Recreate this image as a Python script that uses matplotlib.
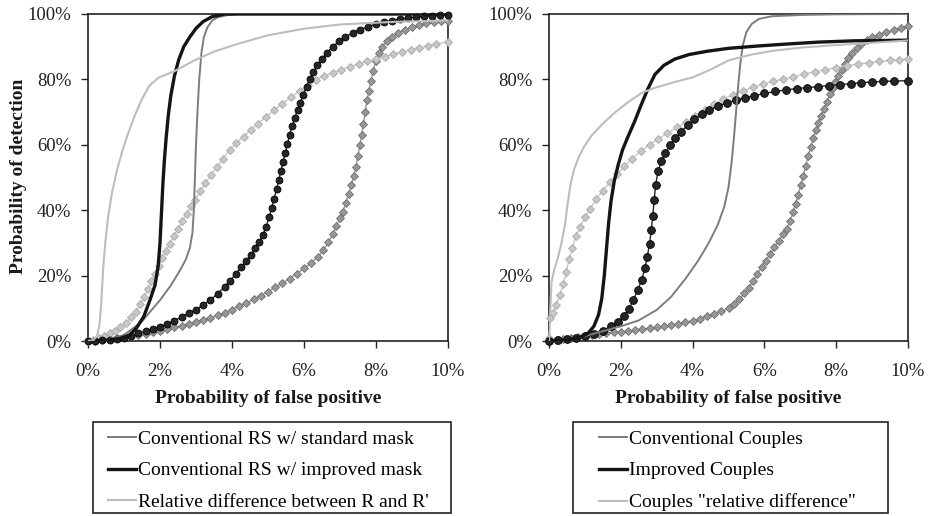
import matplotlib
matplotlib.use("Agg")
import matplotlib.pyplot as plt
import matplotlib.patches as patches

plt.rcParams['font.family'] = ['Liberation Serif', 'DejaVu Serif']

# --- Data (x = probability of false positive in %, y = probability of detection in %) ---
x_ticks = [0, 2, 4, 6, 8, 10]
x_tick_labels = ["0%", "2%", "4%", "6%", "8%", "10%"]
y_ticks = [0, 20, 40, 60, 80, 100]
y_tick_labels = ["0%", "20%", "40%", "60%", "80%", "100%"]

left_labels = ["Conventional RS w/ standard mask",
               "Conventional RS w/ improved mask",
               "Relative difference between R and R'"]
right_labels = ["Conventional Couples",
                "Improved Couples",
                'Couples "relative difference"']

# Left panel, plain lines
rs_std_x = [0, 0.5, 1.0, 1.5, 2.0, 2.3, 2.55, 2.72, 2.83, 2.9, 2.94, 2.97, 3.0, 3.04, 3.09, 3.15,
            3.22, 3.32, 3.45, 3.6, 3.85, 4.2, 5.0, 10]
rs_std_y = [0, 0.4, 1.8, 6.0, 12.5, 17.0, 21.5, 25.0, 28.5, 33, 40, 50, 60, 70, 80, 88,
            93, 96, 98, 99, 99.6, 100, 100, 100]

rs_imp_x = [0, 0.5, 0.9, 1.15, 1.35, 1.55, 1.72, 1.86, 1.95, 2.0, 2.04, 2.08, 2.12, 2.17, 2.23,
            2.3, 2.4, 2.52, 2.66, 2.83, 3.0, 3.2, 3.45, 3.8, 10]
rs_imp_y = [0, 0.2, 0.8, 1.8, 4.0, 7.5, 12.5, 17.0, 23, 30, 39, 48, 55, 62, 69,
            75, 81, 86, 90, 93, 95.6, 97.7, 99.2, 100, 100]

rs_rel_x = [0, 0.15, 0.25, 0.32, 0.37, 0.42, 0.48, 0.56, 0.66, 0.8, 0.95, 1.1, 1.3, 1.5, 1.7,
            1.95, 2.4, 2.9, 3.5, 4.2, 5.0, 6.0, 7.0, 8.5, 10]
rs_rel_y = [0, 0.3, 1.5, 5, 12, 22, 30, 38, 45, 52, 58, 63, 69, 74, 78,
            80.5, 82.5, 85.5, 88.5, 91, 93.5, 95.5, 96.8, 97.6, 98]

# Left panel, marker lines
rs_std_m_x = [0, 0.2, 0.4, 0.6, 0.8, 1.0, 1.2, 1.4, 1.6, 1.8, 2.0, 2.2, 2.4, 2.6, 2.8, 3.0,
              3.2, 3.4, 3.6, 3.8, 4.0, 4.2, 4.4, 4.6, 4.8, 5.0, 5.2, 5.4, 5.6, 5.8, 6.0, 6.2,
              6.38, 6.54, 6.68, 6.8, 6.9, 7.0, 7.08, 7.16, 7.24, 7.31, 7.38, 7.44, 7.5, 7.55,
              7.6, 7.65, 7.7, 7.75, 7.8, 7.86, 7.92, 7.99, 8.07, 8.17, 8.3, 8.45, 8.62, 8.8,
              9.0, 9.2, 9.4, 9.6, 9.8, 10.0]
rs_std_m_y = [0, 0.1, 0.3, 0.5, 0.8, 1.1, 1.4, 1.8, 2.2, 2.7, 3.2, 3.7, 4.2, 4.7, 5.2, 5.8,
              6.3, 7.0, 7.8, 8.7, 9.6, 10.6, 11.6, 12.7, 13.9, 15.1, 16.4, 17.7, 19.1, 20.6, 22.2, 23.9,
              25.6, 27.8, 30.2, 32.7, 35.2, 37.6, 39.6, 42.2, 45.0, 47.6, 50.4, 53.3, 56.6, 59.8,
              63.0, 66.4, 70.0, 73.6, 76.6, 79.6, 82.6, 85.6, 88.0, 90.0, 91.6, 93.0, 94.2, 95.1,
              95.9, 96.6, 97.1, 97.5, 97.8, 98.0]

rs_imp_m_x = [0, 0.2, 0.4, 0.6, 0.8, 1.0, 1.2, 1.4, 1.6, 1.8, 2.0, 2.2, 2.4, 2.6, 2.8, 3.0,
              3.2, 3.4, 3.6, 3.8, 3.95, 4.1, 4.25, 4.4, 4.52, 4.64, 4.76, 4.86, 4.95, 5.03,
              5.1, 5.17, 5.24, 5.3, 5.36, 5.42, 5.48, 5.54, 5.6, 5.67, 5.74, 5.82, 5.9, 5.98,
              6.07, 6.16, 6.26, 6.37, 6.5, 6.64, 6.8, 6.97, 7.15, 7.35, 7.55, 7.78, 8.0, 8.22,
              8.45, 8.68, 8.9, 9.12, 9.34, 9.56, 9.78, 10.0]
rs_imp_m_y = [0, 0.1, 0.2, 0.4, 0.6, 1.0, 1.6, 2.3, 3.0, 3.7, 4.4, 5.2, 6.2, 7.3, 8.6, 9.6,
              11.0, 12.5, 14.5, 16.6, 18.5, 20.4, 22.5, 24.5, 26.3, 28.3, 30.3, 32.5, 35.0, 37.8,
              40.6, 43.5, 46.5, 49.3, 52.0, 54.8, 57.6, 60.3, 63.0, 65.7, 68.2, 70.6, 72.9, 75.3,
              77.7, 80.0, 82.2, 84.3, 86.3, 88.2, 90.0, 91.6, 93.0, 94.2, 95.2, 96.1, 96.9, 97.5,
              98.0, 98.5, 98.8, 99.1, 99.3, 99.5, 99.6, 99.7]

rs_rel_m_x = [0, 0.15, 0.3, 0.45, 0.6, 0.75, 0.9, 1.05, 1.2, 1.33, 1.45, 1.56, 1.66, 1.76,
              1.86, 1.96, 2.06, 2.16, 2.27, 2.38, 2.5, 2.62, 2.74, 2.86, 2.98, 3.12, 3.26,
              3.42, 3.58, 3.76, 3.94, 4.12, 4.32, 4.52, 4.72, 4.94, 5.16, 5.4, 5.64, 5.88,
              6.1, 6.32, 6.56, 6.8, 7.04, 7.28, 7.52, 7.76, 8.0, 8.24, 8.48, 8.72, 8.96,
              9.2, 9.44, 9.68, 10.0]
rs_rel_m_y = [0, 0.2, 0.8, 1.5, 2.3, 3.2, 4.2, 5.5, 7.2, 9.0, 11.2, 13.5, 15.8, 18.2,
              20.6, 23.0, 25.3, 27.5, 29.8, 32.0, 34.3, 36.6, 38.9, 41.2, 43.2, 45.8, 48.3,
              50.8, 53.2, 55.8, 58.5, 60.5, 62.5, 64.5, 66.5, 68.5, 70.5, 72.6, 74.6, 76.5,
              78.2, 79.8, 81.0, 82.0, 83.0, 83.9, 84.8, 85.6, 86.3, 87.0, 87.7, 88.4, 89.1,
              89.7, 90.3, 90.9, 91.5]

# Right panel, plain lines
cp_conv_x = [0, 0.5, 1.0, 1.5, 2.0, 2.5, 3.0, 3.4, 3.8, 4.15, 4.45, 4.7, 4.88, 5.0, 5.08, 5.15,
             5.21, 5.27, 5.33, 5.4, 5.5, 5.65, 5.85, 6.2, 7.0, 8.0, 10]
cp_conv_y = [0, 0.5, 1.5, 3, 4.5, 6.3, 9.5, 13.5, 19, 24.5, 30, 35.5, 41, 47, 54, 62,
             70, 78, 85, 90.5, 94.5, 97, 98.5, 99.3, 99.7, 99.9, 100]

cp_imp_x = [0, 0.3, 0.6, 0.9, 1.1, 1.25, 1.38, 1.47, 1.54, 1.6, 1.66, 1.73, 1.82, 1.93, 2.05,
            2.2, 2.38, 2.56, 2.75, 2.95, 3.2, 3.5, 3.9, 4.4, 5.0, 5.8, 6.6, 7.5, 8.5, 10]
cp_imp_y = [0, 0.2, 0.5, 1.3, 2.5, 4.5, 8, 13, 20, 28, 36, 43, 49, 54, 58.5,
            62.5, 67, 72, 77, 81.5, 84.3, 86.2, 87.6, 88.6, 89.5, 90.2, 90.8, 91.4, 91.8, 92]

cp_rel_x = [0, 0.03, 0.07, 0.15, 0.25, 0.35, 0.45, 0.52, 0.6, 0.7, 0.82, 0.98, 1.2, 1.5,
            1.85, 2.2, 2.6, 3.0, 3.5, 4.0, 4.5, 5.0, 5.6, 6.2, 7.0, 8.0, 9.0, 10]
cp_rel_y = [0, 8, 18, 22, 25.5, 30, 36, 42, 48, 52.5, 56, 59.5, 63, 66.5,
            70, 73, 76, 77.6, 79.2, 80.6, 83, 85.8, 87.5, 88.7, 89.7, 90.5, 91.2, 91.9]

# Right panel, marker lines
cp_conv_m_x = [0, 0.2, 0.4, 0.6, 0.8, 1.0, 1.2, 1.4, 1.6, 1.8, 2.0, 2.2, 2.4, 2.6, 2.8, 3.0,
               3.2, 3.4, 3.6, 3.8, 4.0, 4.2, 4.4, 4.6, 4.8,
               5.0, 5.15, 5.3, 5.44, 5.56, 5.68, 5.8, 5.92, 6.04, 6.16, 6.28, 6.4, 6.52, 6.62,
               6.72, 6.8, 6.87, 6.94, 7.01, 7.08, 7.15, 7.22, 7.29, 7.36, 7.43, 7.5, 7.58,
               7.66, 7.74, 7.82, 7.9, 7.98, 8.06, 8.15, 8.24, 8.34, 8.45, 8.57, 8.7, 8.85,
               9.0, 9.2, 9.4, 9.6, 9.8, 10.0]
cp_conv_m_y = [0, 0.2, 0.5, 0.8, 1.1, 1.4, 1.7, 2.0, 2.3, 2.6, 2.8, 3.0, 3.3, 3.6, 3.9, 4.2,
               4.5, 4.8, 5.2, 5.7, 6.2, 6.8, 7.5, 8.3, 9.1,
               10.0, 11.2, 12.7, 14.6, 16.3, 18.2, 20.4, 22.6, 24.6, 26.6, 28.6, 30.6, 32.6, 34.4,
               36.8, 39.4, 42.0, 44.8, 47.6, 50.6, 53.6, 56.6, 59.4, 62.0, 64.4, 66.6, 68.8,
               71.0, 73.2, 75.4, 77.4, 79.2, 81.0, 83.0, 84.8, 86.6, 88.2, 89.6, 90.8, 91.9,
               92.9, 93.7, 94.4, 95.2, 95.8, 96.4]

cp_imp_m_x = [0, 0.25, 0.5, 0.75, 1.0, 1.25, 1.5, 1.72, 1.92, 2.08, 2.22, 2.35, 2.47, 2.58,
              2.67, 2.74, 2.8, 2.85, 2.89, 2.93, 2.97, 3.04, 3.13, 3.24, 3.37, 3.52, 3.68,
              3.86, 4.05, 4.25, 4.47, 4.7, 4.95, 5.2, 5.45, 5.72, 6.0, 6.3, 6.6, 6.9, 7.2,
              7.5, 7.8, 8.1, 8.4, 8.7, 9.0, 9.3, 9.6, 10.0]
cp_imp_m_y = [0, 0.4, 0.7, 1.0, 1.5, 2.2, 3.2, 4.5, 5.8, 7.6, 9.8, 12.4, 15.6, 18.6,
              22.2, 25.8, 29.8, 34.0, 38.3, 43.0, 47.8, 52.0, 55.0, 57.5, 59.8, 62.0, 64.0,
              66.0, 67.8, 69.3, 70.6, 71.8, 72.8, 73.6, 74.4, 75.0, 75.7, 76.3, 76.8, 77.2, 77.5,
              77.8, 78.1, 78.4, 78.7, 79.0, 79.2, 79.4, 79.5, 79.6]

cp_rel_m_x = [0, 0.03, 0.1, 0.2, 0.3, 0.4, 0.48, 0.56, 0.65, 0.75, 0.87, 1.0, 1.15, 1.32,
              1.5, 1.7, 1.9, 2.1, 2.32, 2.55, 2.8, 3.05, 3.3, 3.56, 3.82, 4.08, 4.34, 4.6,
              4.86, 5.12, 5.4, 5.68, 5.96, 6.24, 6.52, 6.8, 7.1, 7.4, 7.7, 8.0, 8.3, 8.6,
              8.9, 9.2, 9.5, 9.75, 10.0]
cp_rel_m_y = [1, 7, 8.5, 11, 14, 17.5, 21, 25, 28.5, 32, 35, 37.8, 40.5, 43.3,
              46, 48.6, 51, 53.4, 55.8, 58, 60, 61.8, 63.6, 65.3, 67, 68.7, 70.6, 72.5,
              74, 75.3, 76.5, 77.6, 78.6, 79.4, 80.1, 80.8, 81.6, 82.4, 83.0, 83.6, 84.2, 84.7,
              85.1, 85.5, 85.8, 86.0, 86.3]

# --- Styles ---
GRAY = "#7c7c7c"
BLACK = "#141414"
LIGHT = "#bdbdbd"

W, H = 932, 516
fig = plt.figure(figsize=(W / 100, H / 100), dpi=100)


def px_rect(x0, y0, x1, y1):
    # pixel box (top-left origin) -> figure fraction [left, bottom, width, height]
    return [x0 / W, 1 - y1 / H, (x1 - x0) / W, (y1 - y0) / H]


def style_axes(ax):
    ax.set_xlim(0, 10)
    ax.set_ylim(0, 100)
    ax.set_xticks(x_ticks)
    ax.set_xticklabels(x_tick_labels)
    ax.set_yticks(y_ticks)
    ax.set_yticklabels(y_tick_labels)
    ax.tick_params(direction='out', length=5, width=1, labelsize=13.5, colors='#222222')
    ax.tick_params(axis='x', pad=11)
    ax.tick_params(axis='y', pad=7)
    for s in ax.spines.values():
        s.set_color('#222222')
        s.set_linewidth(1.2)
    ax.set_xlabel("Probability of false positive", fontsize=14, fontweight='bold',
                  labelpad=7, color='#1a1a1a')


def marker_line(ax, x, y, color, edge, marker, ms):
    ax.plot(x, y, color=color, lw=1.0, marker=marker, ms=ms, mfc=color, mec=edge,
            mew=0.6, clip_on=False, zorder=3)


axL = fig.add_axes(px_rect(88, 14, 448, 341))
axR = fig.add_axes(px_rect(549, 14, 908, 341))

# left panel
marker_line(axL, rs_std_m_x, rs_std_m_y, "#979797", "#6e6e6e", "D", 4.2)
marker_line(axL, rs_rel_m_x, rs_rel_m_y, "#c8c8c8", "#a8a8a8", "D", 4.2)
marker_line(axL, rs_imp_m_x, rs_imp_m_y, "#262626", "#000000", "o", 5.0)
lL1, = axL.plot(rs_std_x, rs_std_y, color=GRAY, lw=1.4, zorder=4)
lL2, = axL.plot(rs_imp_x, rs_imp_y, color=BLACK, lw=2.4, zorder=4)
lL3, = axL.plot(rs_rel_x, rs_rel_y, color=LIGHT, lw=1.5, zorder=4)
style_axes(axL)
axL.set_ylabel("Probability of detection", fontsize=14, fontweight='bold', color='#1a1a1a')
axL.yaxis.set_label_coords((27 - 88) / 360, 0.505)

# right panel
marker_line(axR, cp_conv_m_x, cp_conv_m_y, "#979797", "#6e6e6e", "D", 4.4)
marker_line(axR, cp_rel_m_x, cp_rel_m_y, "#c8c8c8", "#a8a8a8", "D", 4.4)
marker_line(axR, cp_imp_m_x, cp_imp_m_y, "#262626", "#000000", "o", 5.6)
lR1, = axR.plot(cp_conv_x, cp_conv_y, color=GRAY, lw=1.4, zorder=4)
lR2, = axR.plot(cp_imp_x, cp_imp_y, color=BLACK, lw=2.4, zorder=4)
lR3, = axR.plot(cp_rel_x, cp_rel_y, color=LIGHT, lw=1.5, zorder=4)
style_axes(axR)

# legend frames (fixed boxes like the original)
for box in [(93, 422, 451, 513), (573, 422, 888, 513)]:
    x0, y0, x1, y1 = box
    r = patches.Rectangle((x0 / W, 1 - y1 / H), (x1 - x0) / W, (y1 - y0) / H,
                          transform=fig.transFigure, fill=False, edgecolor='#222222', lw=1.2)
    fig.patches.append(r)

leg_kw = dict(loc='upper left', frameon=False, fontsize=14, borderpad=0, borderaxespad=0,
              handlelength=1.45, handletextpad=0.1, labelspacing=0.73)
fig.legend([lL1, lL2, lL3], left_labels, bbox_to_anchor=(108 / W, 1 - 430 / H), **leg_kw)
fig.legend([lR1, lR2, lR3], right_labels, bbox_to_anchor=(599 / W, 1 - 430 / H), **leg_kw)

fig.savefig("out.png", dpi=100, facecolor='white')
